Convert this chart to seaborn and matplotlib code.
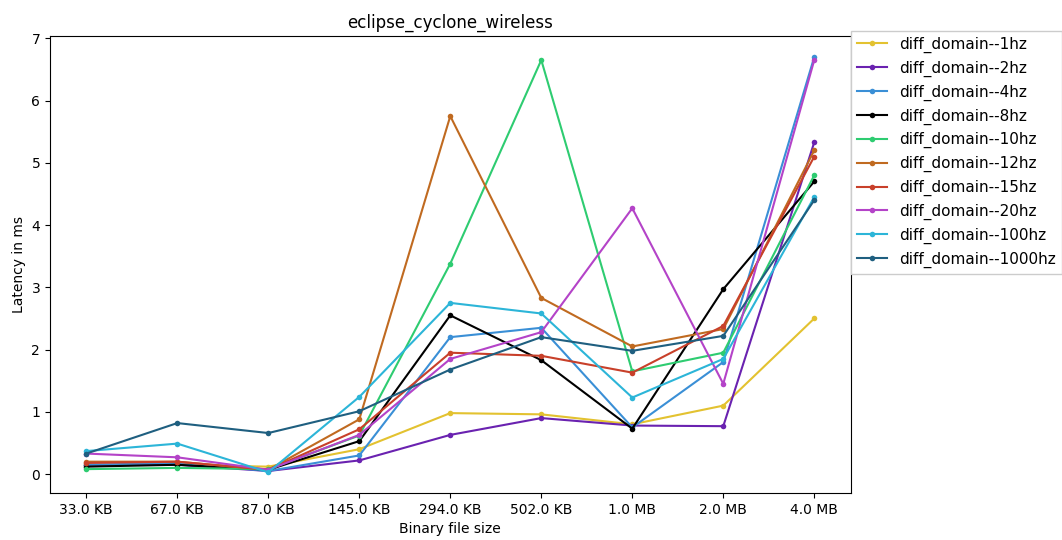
import matplotlib
matplotlib.use("Agg")
import matplotlib.pyplot as plt
import seaborn as sns
import pandas as pd

sizes = ["33.0 KB", "67.0 KB", "87.0 KB", "145.0 KB", "294.0 KB", "502.0 KB", "1.0 MB", "2.0 MB", "4.0 MB"]

hz1    = [0.15, 0.15, 0.12, 0.40, 0.98, 0.96, 0.80, 1.10, 2.50]
hz2    = [0.15, 0.15, 0.05, 0.22, 0.63, 0.90, 0.78, 0.77, 5.33]
hz4    = [0.15, 0.18, 0.05, 0.30, 2.20, 2.35, 0.75, 1.80, 6.70]
hz8    = [0.12, 0.15, 0.07, 0.53, 2.55, 1.83, 0.73, 2.97, 4.70]
hz10   = [0.08, 0.10, 0.08, 0.62, 3.38, 6.65, 1.65, 1.95, 4.80]
hz12   = [0.20, 0.20, 0.07, 0.88, 5.75, 2.83, 2.05, 2.33, 5.20]
hz15   = [0.18, 0.20, 0.07, 0.72, 1.95, 1.90, 1.63, 2.38, 5.10]
hz20   = [0.33, 0.27, 0.07, 0.63, 1.85, 2.28, 4.27, 1.45, 6.65]
hz100  = [0.37, 0.49, 0.03, 1.24, 2.75, 2.58, 1.23, 1.85, 4.45]
hz1000 = [0.33, 0.82, 0.66, 1.01, 1.68, 2.20, 1.98, 2.22, 4.40]

series_names = ["diff_domain--1hz", "diff_domain--2hz", "diff_domain--4hz", "diff_domain--8hz",
                "diff_domain--10hz", "diff_domain--12hz", "diff_domain--15hz", "diff_domain--20hz",
                "diff_domain--100hz", "diff_domain--1000hz"]
series_values = [hz1, hz2, hz4, hz8, hz10, hz12, hz15, hz20, hz100, hz1000]
colors = ["#e3c230", "#6a22b0", "#3a8fd6", "#000000", "#2ecc71",
          "#c06a20", "#c8402a", "#b443c8", "#2cb5d8", "#1f5f80"]

rows = []
for name, vals in zip(series_names, series_values):
    for i, v in enumerate(vals):
        rows.append({"idx": i, "latency": v, "series": name})
df = pd.DataFrame(rows)

fig = plt.figure(figsize=(10.62, 5.4), dpi=100)
ax = fig.add_axes([0.047, 0.087, 0.754, 0.846])
sns.lineplot(data=df, x="idx", y="latency", hue="series", hue_order=series_names,
             palette=colors, marker="o", markersize=4, markeredgewidth=0,
             linewidth=1.5, sort=False, ax=ax)
ax.set_xticks(range(len(sizes)))
ax.set_xticklabels(sizes)
ax.set_xlabel("Binary file size")
ax.set_ylabel("Latency in ms")
ax.set_title("eclipse_cyclone_wireless")
ax.legend(loc="upper left", bbox_to_anchor=(1.0, 1.012), borderaxespad=0.0,
          fancybox=False, framealpha=1.0, edgecolor="#cccccc", fontsize=11)
fig.savefig("out.png", dpi=100)
